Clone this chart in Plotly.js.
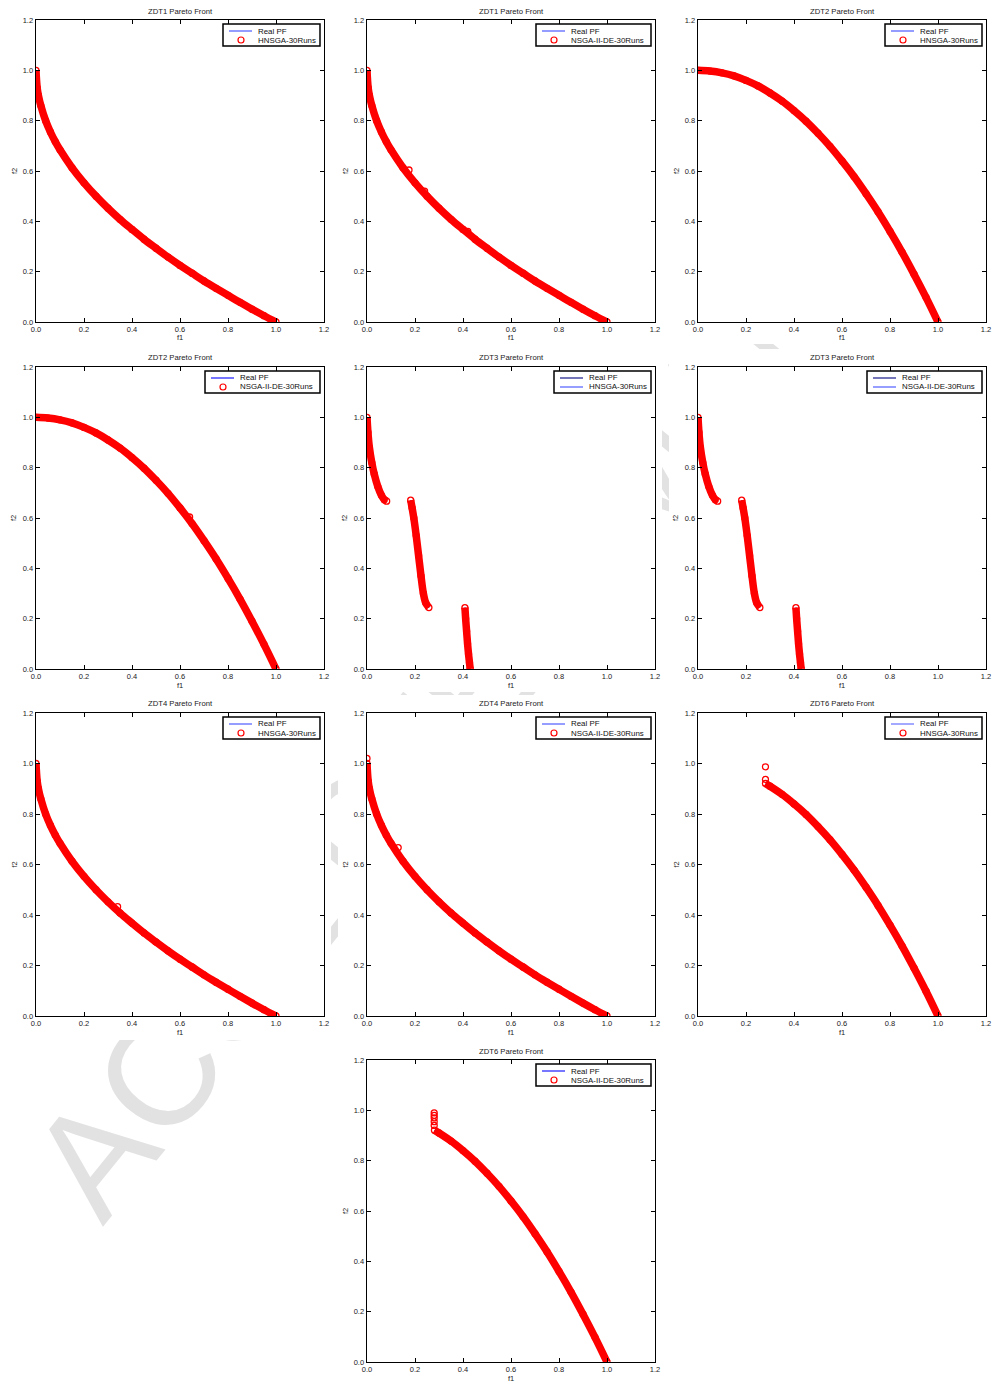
<!DOCTYPE html>
<html><head><meta charset="utf-8">
<script src="https://cdn.plot.ly/plotly-3.0.1.min.js"></script>
<style>
html,body{margin:0;padding:0;background:#fff;}
#wrap{position:relative;width:992px;height:1382px;overflow:hidden;background:#fff;}
#wm{position:absolute;left:4px;top:1147px;transform-origin:0 0;transform:rotate(-51deg);
 font-family:"Liberation Sans",Arial,sans-serif;font-size:150px;line-height:1;color:#e2e2e2;white-space:nowrap;z-index:0;}
#plot{position:absolute;left:0;top:0;width:992px;height:1382px;z-index:1;}
</style></head>
<body><div id="wrap"><div id="wm">ACCEPTED MANUSCRIPT</div><div id="plot"></div></div>
<script>
// ---- Data ----
// ZDT1 / ZDT4 real Pareto front
const pf1_f1 = [0,0.005,0.01,0.02,0.04,0.06,0.08,0.10,0.15,0.20,0.25,0.30,0.35,0.40,0.45,0.50,0.55,0.60,0.65,0.70,0.75,0.80,0.85,0.90,0.95,1.00];
const pf1_f2 = [1.00,0.93,0.90,0.86,0.80,0.755,0.717,0.684,0.613,0.553,0.50,0.452,0.408,0.368,0.329,0.293,0.258,0.225,0.194,0.163,0.134,0.106,0.078,0.051,0.025,0.00];
// ZDT2 real Pareto front
const pf2_f1 = [0,0.05,0.10,0.15,0.20,0.25,0.30,0.35,0.40,0.45,0.50,0.55,0.60,0.65,0.70,0.75,0.80,0.85,0.90,0.95,1.00];
const pf2_f2 = [1.00,0.997,0.99,0.978,0.96,0.938,0.91,0.878,0.84,0.798,0.75,0.698,0.64,0.578,0.51,0.438,0.36,0.278,0.19,0.098,0.00];
// ZDT3 real Pareto front (three disconnected pieces)
const pf3_f1 = [0,0.004,0.01,0.02,0.03,0.045,0.06,0.072,0.082,null,0.182,0.188,0.195,0.205,0.215,0.225,0.235,0.245,0.258,null,0.408,0.411,0.415,0.419,0.423,0.427,0.43];
const pf3_f2 = [1.00,0.94,0.88,0.82,0.775,0.725,0.69,0.673,0.667,null,0.671,0.64,0.60,0.53,0.45,0.37,0.30,0.262,0.244,null,0.244,0.20,0.15,0.10,0.06,0.025,0.00];
// ZDT6 real Pareto front
const pf6_f1 = [0.281,0.30,0.35,0.40,0.45,0.50,0.55,0.60,0.65,0.70,0.75,0.80,0.85,0.90,0.95,1.00];
const pf6_f2 = [0.921,0.91,0.878,0.84,0.798,0.75,0.698,0.64,0.578,0.51,0.438,0.36,0.278,0.19,0.098,0.00];
// Isolated solutions found off the front
const zdt1_de_f1 = [0.175,0.24,0.42];
const zdt1_de_f2 = [0.604,0.52,0.36];
const zdt2_de_f1 = [0.64];
const zdt2_de_f2 = [0.604];
const zdt4_hn_f1 = [0.34];
const zdt4_hn_f2 = [0.433];
const zdt4_de_f1 = [0,0.13];
const zdt4_de_f2 = [1.02,0.667];
const zdt6_hn_f1 = [0.281,0.281];
const zdt6_hn_f2 = [0.987,0.937];
const zdt6_de_f1 = [0.28,0.28,0.28,0.28,0.28];
const zdt6_de_f2 = [0.99,0.98,0.97,0.955,0.94];
const tickVals = [0,0.2,0.4,0.6,0.8,1.0,1.2];
const problems = ['ZDT1','ZDT1','ZDT2','ZDT2','ZDT3','ZDT3','ZDT4','ZDT4','ZDT6','ZDT6'];
const algos = ['HNSGA-30Runs','NSGA-II-DE-30Runs','HNSGA-30Runs','NSGA-II-DE-30Runs','HNSGA-30Runs','NSGA-II-DE-30Runs','HNSGA-30Runs','NSGA-II-DE-30Runs','HNSGA-30Runs','NSGA-II-DE-30Runs'];

// ---- Layout geometry ----
const W = 992, H = 1382;
const F = '"Liberation Sans", Arial, sans-serif';
const cols = [[36,324],[367,655],[698,986]];
const rows = [[20,322],[367,669],[713,1016],[1060,1362]];
const cells = [[0,0],[1,0],[2,0],[0,1],[1,1],[2,1],[0,2],[1,2],[2,2],[1,3]];
const pfX = {ZDT1:pf1_f1,ZDT2:pf2_f1,ZDT3:pf3_f1,ZDT4:pf1_f1,ZDT6:pf6_f1};
const pfY = {ZDT1:pf1_f2,ZDT2:pf2_f2,ZDT3:pf3_f2,ZDT4:pf1_f2,ZDT6:pf6_f2};
const extra = [[[],[]],[zdt1_de_f1,zdt1_de_f2],[[],[]],[zdt2_de_f1,zdt2_de_f2],[[],[]],[[],[]],[zdt4_hn_f1,zdt4_hn_f2],[zdt4_de_f1,zdt4_de_f2],[zdt6_hn_f1,zdt6_hn_f2],[zdt6_de_f1,zdt6_de_f2]];
const pfColor = ['#4d5cff','#4d5cff','#4d5cff','#1a1aff','#1a1a8c','#1a1a8c','#4d5cff','#4d5cff','#6670ff','#1a1aff'];

const px = v => v/W, py = v => 1 - v/H;
const traces = [], layout = {
  width:W, height:H, margin:{l:0,r:0,t:0,b:0},
  paper_bgcolor:'rgba(0,0,0,0)', plot_bgcolor:'#fff', showlegend:false,
  annotations:[], shapes:[], font:{family:F,size:7.5,color:'#222'}
};
// white image backgrounds that hide the watermark
const imgCols = [[0,331],[338,662],[669,992]];
const imgRows = [[0,344],[349,692],[695,1040],[1044,1382]];
cells.forEach(([c,r])=>{
  layout.shapes.push({type:'rect',xref:'paper',yref:'paper',layer:'below',
    x0:px(imgCols[c][0]),x1:px(imgCols[c][1]),y0:py(imgRows[r][1]),y1:py(imgRows[r][0]),
    fillcolor:'#fff',line:{width:0}});
});

function legendBox(left, top, width, entries){
  layout.shapes.push({type:'rect',xref:'paper',yref:'paper',layer:'above',
    x0:px(left),x1:px(left+width),y0:py(top+22),y1:py(top),fillcolor:'#fff',line:{color:'#000',width:1.5}});
  entries.forEach((e,k)=>{
    const yc = top + 7 + 9*k;
    if(e.kind==='line'){
      layout.shapes.push({type:'line',xref:'paper',yref:'paper',layer:'above',
        x0:px(left+6),x1:px(left+29),y0:py(yc),y1:py(yc),line:{color:e.color,width:1.2}});
    } else {
      layout.shapes.push({type:'circle',xref:'paper',yref:'paper',layer:'above',
        x0:px(left+15),x1:px(left+21),y0:py(yc+3),y1:py(yc-3),line:{color:'#ff0000',width:1.2}});
    }
    layout.annotations.push({text:e.name,xref:'paper',yref:'paper',x:px(left+33),y:py(yc),
      showarrow:false,xanchor:'left',yanchor:'middle',font:{size:7.9,family:F,color:'#111'}});
  });
}

cells.forEach(([c,r],i)=>{
  const n = i+1, sfx = n===1?'':String(n);
  const xd = [px(cols[c][0]), px(cols[c][1])];
  const yd = [py(rows[r][1]), py(rows[r][0])];
  const axBase = {range:[0,1.2], tickvals:tickVals, tickformat:'.1f', ticks:'inside', ticklen:4, tickwidth:1,
    tickcolor:'#000', showline:true, linecolor:'#000', linewidth:1.4, mirror:'ticks', showgrid:false,
    zeroline:false, fixedrange:true, tickfont:{size:7.5,family:F,color:'#222'}};
  layout['xaxis'+sfx] = Object.assign({}, axBase, {domain:xd, anchor:'y'+sfx});
  layout['yaxis'+sfx] = Object.assign({}, axBase, {domain:yd, anchor:'x'+sfx});
  const prob = problems[i], alg = algos[i];
  const xs = pfX[prob], ys = pfY[prob];
  traces.push({type:'scatter',mode:'lines',x:xs,y:ys,xaxis:'x'+sfx,yaxis:'y'+sfx,name:'Real PF',
    line:{color:pfColor[i],width:1.2},connectgaps:false});
  if(prob==='ZDT3'){
    traces.push({type:'scatter',mode:'lines',x:xs,y:ys,xaxis:'x'+sfx,yaxis:'y'+sfx,name:alg,
      line:{color:'#5060ff',width:1.2},connectgaps:false});
  }
  // dense band of overlapping solutions
  traces.push({type:'scatter',mode:'lines',x:xs,y:ys,xaxis:'x'+sfx,yaxis:'y'+sfx,name:alg,
    line:{color:'#ff0000',width:7.5,shape:'spline',smoothing:1},connectgaps:false,hoverinfo:'skip'});
  const mx = xs.filter(v=>v!==null).concat(extra[i][0]);
  const my = ys.filter(v=>v!==null).concat(extra[i][1]);
  traces.push({type:'scatter',mode:'markers',x:mx,y:my,xaxis:'x'+sfx,yaxis:'y'+sfx,name:alg,
    marker:{symbol:'circle-open',size:6,color:'#ff0000',line:{width:1.3,color:'#ff0000'}}});
  const cx = px((cols[c][0]+cols[c][1])/2);
  layout.annotations.push({text:prob+' Pareto Front',xref:'paper',yref:'paper',x:cx,y:py(rows[r][0]-9),
    showarrow:false,xanchor:'center',yanchor:'middle',font:{size:7.7,family:F,color:'#222'}});
  layout.annotations.push({text:'f1',xref:'paper',yref:'paper',x:cx,y:py(rows[r][1]+16),
    showarrow:false,xanchor:'center',yanchor:'middle',font:{size:7.5,family:F,color:'#222'}});
  layout.annotations.push({text:'f2',xref:'paper',yref:'paper',x:px(cols[c][0]-22),y:py((rows[r][0]+rows[r][1])/2),
    showarrow:false,textangle:-90,xanchor:'center',yanchor:'middle',font:{size:7.5,family:F,color:'#222'}});
  // legend
  const lw = alg.length > 14 ? 115 : 97;
  const ents = prob==='ZDT3'
    ? [{kind:'line',color:'#1a1a8c',name:'Real PF'},{kind:'line',color:'#5060ff',name:alg}]
    : [{kind:'line',color:pfColor[i],name:'Real PF'},{kind:'marker',name:alg}];
  legendBox(cols[c][1]-4-lw, rows[r][0]+4, lw, ents);
});
Plotly.newPlot('plot', traces, layout, {staticPlot:true, displayModeBar:false});
</script></body></html>
